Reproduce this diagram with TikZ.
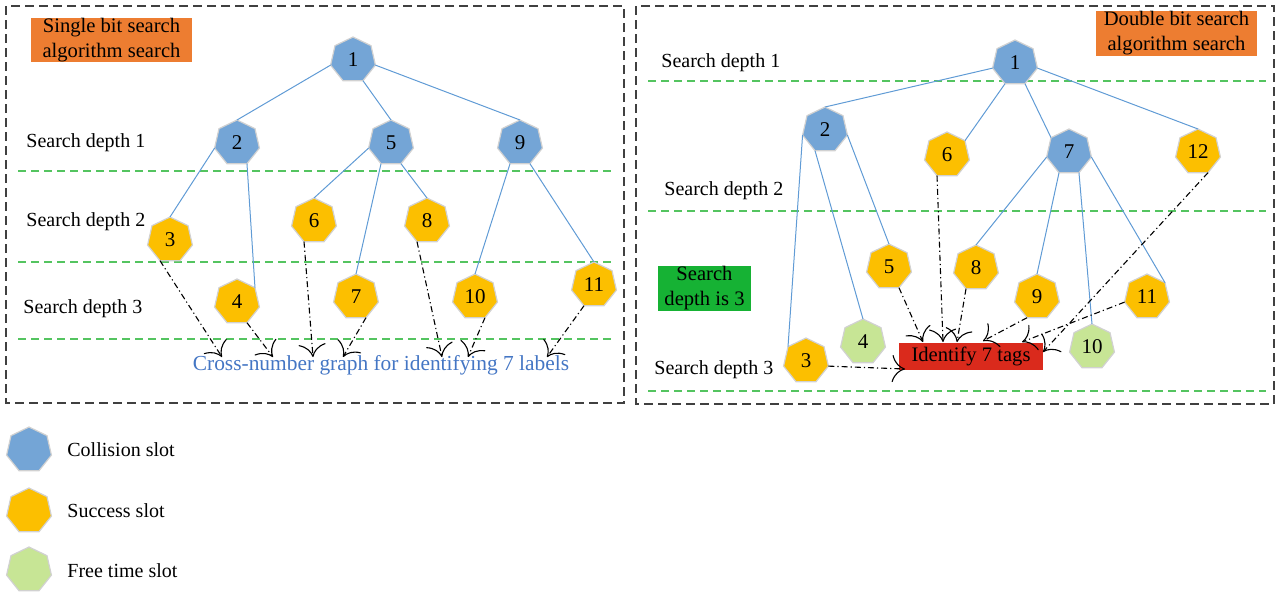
\documentclass[tikz,border=0pt]{standalone}
\usepackage{fontspec}
\setmainfont{Liberation Serif}
\usetikzlibrary{shapes.geometric,arrows.meta}
\definecolor{colblue}{RGB}{116,165,214}
\definecolor{colgold}{RGB}{252,191,0}
\definecolor{colfree}{RGB}{199,229,149}
\definecolor{edgeblue}{RGB}{96,155,213}
\definecolor{lgreen}{RGB}{84,196,96}
\definecolor{orangebox}{RGB}{237,125,49}
\definecolor{redbox}{RGB}{218,42,28}
\definecolor{greenbox}{RGB}{22,178,52}
\definecolor{textblue}{RGB}{68,118,196}
\begin{document}
\begin{tikzpicture}[x=0.5pt,y=-0.5pt,
  hep/.style={regular polygon, regular polygon sides=7, minimum size=23pt, inner sep=0pt, outer sep=0pt, draw=black!18, line width=0.6pt, font=\fontsize{10.5}{12}\selectfont},
  coll/.style={hep, fill=colblue},
  succ/.style={hep, fill=colgold},
  freeslot/.style={hep, fill=colfree},
  tedge/.style={draw=edgeblue, line width=0.5pt},
  arr/.style={-{To[scale=2.3]}, line width=0.55pt, dash pattern=on 3pt off 1.5pt on 0.6pt off 1.5pt},
  gline/.style={draw=lgreen, line width=0.8pt, dash pattern=on 4pt off 2.5pt},
  frame/.style={draw=black!75, line width=0.7pt, dash pattern=on 4.5pt off 2.5pt},
  lbl/.style={anchor=west, inner sep=0pt, font=\fontsize{10}{12}\selectfont},
  tagbox/.style={inner sep=0pt, align=center, font=\fontsize{10.3}{12.5}\selectfont}
]
\useasboundingbox (0,0) rectangle (1276,595);

% frames
\draw[frame] (6,6) rectangle (624,403);
\draw[frame] (636,6) rectangle (1274,404);

% ---------- left panel ----------
\node[tagbox, fill=orangebox, minimum width=80.5pt, minimum height=22pt] (ltitle) at (111.5,40) {Single bit search\\algorithm search};

\draw[gline] (18,171) -- (612,171);
\draw[gline] (18,262) -- (612,262);
\draw[gline] (18,339) -- (612,339);

\node[lbl] (ld1) at (26,143) {Search depth 1};
\node[lbl] (ld2) at (26,222) {Search depth 2};
\node[lbl] (ld3) at (23,309) {Search depth 3};

\node[coll] (L1) at (353,60) {1};
\node[coll] (L2) at (237,143) {2};
\node[coll] (L5) at (391,143) {5};
\node[coll] (L9) at (520,143) {9};
\node[succ] (L3) at (170,240) {3};
\node[succ] (L6) at (314,221) {6};
\node[succ] (L8) at (427,221) {8};
\node[succ] (L4) at (237,302) {4};
\node[succ] (L7) at (356,297) {7};
\node[succ] (L10) at (475,297) {10};
\node[succ] (L11) at (594,285) {11};

\draw[tedge] (L1.corner 3) -- (L2.corner 1);
\draw[tedge] (L1.corner 5) -- (L5.corner 1);
\draw[tedge] (L1.corner 6) -- (L9.corner 1);
\draw[tedge] (L2.corner 3) -- (L3.corner 1);
\draw[tedge] (L2.corner 5) -- (L4.corner 7);
\draw[tedge] (L5.corner 3) -- (L6.corner 1);
\draw[tedge] (L5.corner 4) -- (L7.corner 1);
\draw[tedge] (L5.corner 5) -- (L8.corner 1);
\draw[tedge] (L9.corner 4) -- (L10.corner 1);
\draw[tedge] (L9.corner 5) -- (L11.corner 1);

\node[inner sep=0pt, text=textblue, font=\fontsize{10.7}{12}\selectfont] (cross) at (381,365) {Cross-number graph for identifying 7 labels};

\coordinate (a3) at (222,357);
\coordinate (a4) at (273,357);
\coordinate (a6) at (313,357);
\coordinate (a7) at (343,357);
\coordinate (a8) at (442,357);
\coordinate (a10) at (468,357);
\coordinate (a11) at (547,357);

\draw[arr] (L3.corner 4) -- (a3);
\draw[arr] (L4.corner 5) -- (a4);
\draw[arr] (L6.corner 4) -- (a6);
\draw[arr] (L7.corner 5) -- (a7);
\draw[arr] (L8.corner 4) -- (a8);
\draw[arr] (L10.corner 5) -- (a10);
\draw[arr] (L11.corner 4) -- (a11);

% ---------- right panel ----------
\node[tagbox, fill=orangebox, minimum width=80.5pt, minimum height=22.5pt] (rtitle) at (1176.5,33.5) {Double bit search\\algorithm search};

\draw[gline] (648,81) -- (1266,81);
\draw[gline] (648,211) -- (1266,211);
\draw[gline] (648,391) -- (1266,391);

\node[lbl] (rd1) at (661,63) {Search depth 1};
\node[lbl] (rd2) at (664,191) {Search depth 2};
\node[lbl] (rd3) at (654,370) {Search depth 3};

\node[tagbox, fill=greenbox, minimum width=46.5pt, minimum height=22.5pt] (gbox) at (704.5,288.5) {Search\\depth is 3};
\node[tagbox, fill=redbox, minimum width=72pt, minimum height=13.5pt] (rbox) at (971,356) {Identify 7 tags};

\node[coll] (R1) at (1015,63) {1};
\node[coll] (R2) at (825,130) {2};
\node[succ] (R6) at (947,155) {6};
\node[coll] (R7) at (1069,152) {7};
\node[succ] (R12) at (1198,152) {12};
\node[succ] (R5) at (889,267) {5};
\node[succ] (R8) at (976,268) {8};
\node[succ] (R9) at (1037,297) {9};
\node[succ] (R11) at (1147,297) {11};
\node[freeslot] (R4) at (863,342) {4};
\node[succ] (R3) at (806,361) {3};
\node[freeslot] (R10) at (1092,347) {10};

\draw[tedge] (R1.corner 3) -- (R2.corner 1);
\draw[tedge] (R1.corner 4) -- (R6.corner 7);
\draw[tedge] (R1.corner 5) -- (R7.corner 2);
\draw[tedge] (R1.corner 6) -- (R12.corner 1);
\draw[tedge] (R2.corner 3) -- (R3.corner 2);
\draw[tedge] (R2.corner 4) -- (R4.corner 1);
\draw[tedge] (R2.corner 6) -- (R5.corner 1);
\draw[tedge] (R7.corner 3) -- (R8.corner 1);
\draw[tedge] (R7.corner 4) -- (R9.corner 1);
\draw[tedge] (R7.corner 5) -- (R10.corner 1);
\draw[tedge] (R7.corner 6) -- (R11.corner 7);

\coordinate (b3) at (905,369);
\coordinate (b5) at (923,342);
\coordinate (b6) at (943,342);
\coordinate (b8) at (957,342);
\coordinate (b9) at (983,341);
\coordinate (b11) at (1022,342);
\coordinate (b12) at (1043,352);

\draw[arr] (R3.corner 6) -- (b3);
\draw[arr] (R5.corner 5) -- (b5);
\draw[arr] (R6.corner 4) -- (b6);
\draw[arr] (R8.corner 4) -- (b8);
\draw[arr] (R9.corner 4) -- (b9);
\draw[arr] (R11.corner 3) -- (b11);
\draw[arr] (R12.corner 5) -- (b12);

% ---------- legend ----------
\node[coll] (k1) at (29,450) {};
\node[succ] (k2) at (29,511) {};
\node[freeslot] (k3) at (29,570) {};
\node[lbl] (k1t) at (67,450) {Collision slot};
\node[lbl] (k2t) at (67,511) {Success slot};
\node[lbl] (k3t) at (67,571) {Free time slot};
\end{tikzpicture}
\end{document}
